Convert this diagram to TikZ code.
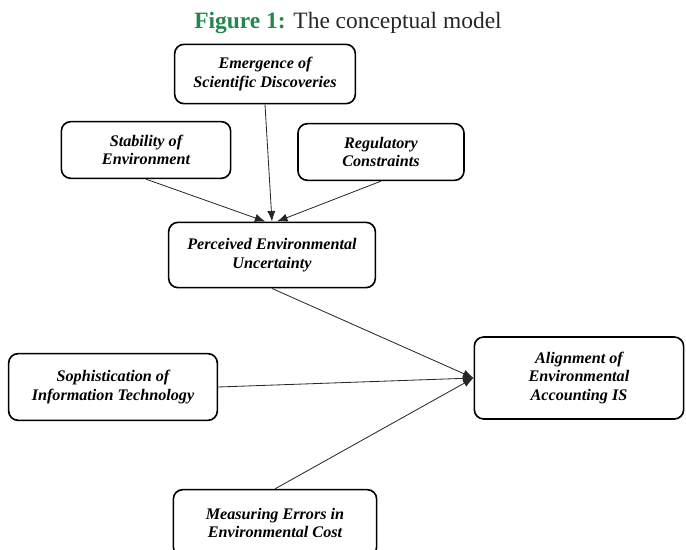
\documentclass[tikz,border=0pt]{standalone}
\usepackage{fontspec}
\setmainfont{Liberation Serif}
\usetikzlibrary{arrows.meta}
\definecolor{figgreen}{RGB}{35,135,75}
\tikzset{>={Latex[length=9pt,width=7pt]}}
\tikzset{var/.style={draw, line width=1.4pt, rounded corners=8pt, align=center, inner sep=2pt,
    font=\fontsize{13.8}{15.8}\selectfont\bfseries\itshape}}
\tikzset{link/.style={->, line width=0.7pt, draw=black!85}}

\begin{document}
\begin{tikzpicture}[x=0.03cm, y=-0.03cm]
        \useasboundingbox (0,0) rectangle (686,550);

        \node[anchor=base] (title) at (348,28) {\fontsize{20}{24}\selectfont\textcolor{figgreen}{\textbf{Figure 1:}} \textcolor{black!85}{The conceptual model}};

        \node[var, minimum width=5.42cm, minimum height=1.78cm] (emer) at (265,74) {Emergence of\\Scientific Discoveries};
        \node[var, minimum width=5.08cm, minimum height=1.7cm] (stab) at (146,150) {Stability of\\Environment};
        \node[var, minimum width=4.98cm, minimum height=1.7cm] (reg) at (381,152) {Regulatory\\Constraints};
        \node[var, minimum width=6.2cm, minimum height=1.96cm] (perc) at (272,255) {Perceived Environmental\\Uncertainty};
        \node[var, minimum width=6.26cm, minimum height=2cm] (soph) at (113,387) {Sophistication of\\Information Technology};
        \node[var, minimum width=6.28cm, minimum height=2.46cm] (align) at (579,378) {Alignment of\\Environmental\\Accounting IS};
        \node[var, minimum width=6.1cm, minimum height=2cm] (meas) at (275,523) {Measuring Errors in\\Environmental Cost};

        % into perceived uncertainty
        \draw[link] (stab.south) -- ([xshift=-0.2cm]perc.north);
        \draw[link] (emer.south) -- (perc.north);
        \draw[link] (reg.south) -- ([xshift=0.15cm]perc.north);

        % into alignment
        \draw[link] (perc.south) -- (align.west);
        \draw[link] (soph.east) -- (align.west);
        \draw[link] (meas.north) -- (align.west);
    \end{tikzpicture}
\end{document}
